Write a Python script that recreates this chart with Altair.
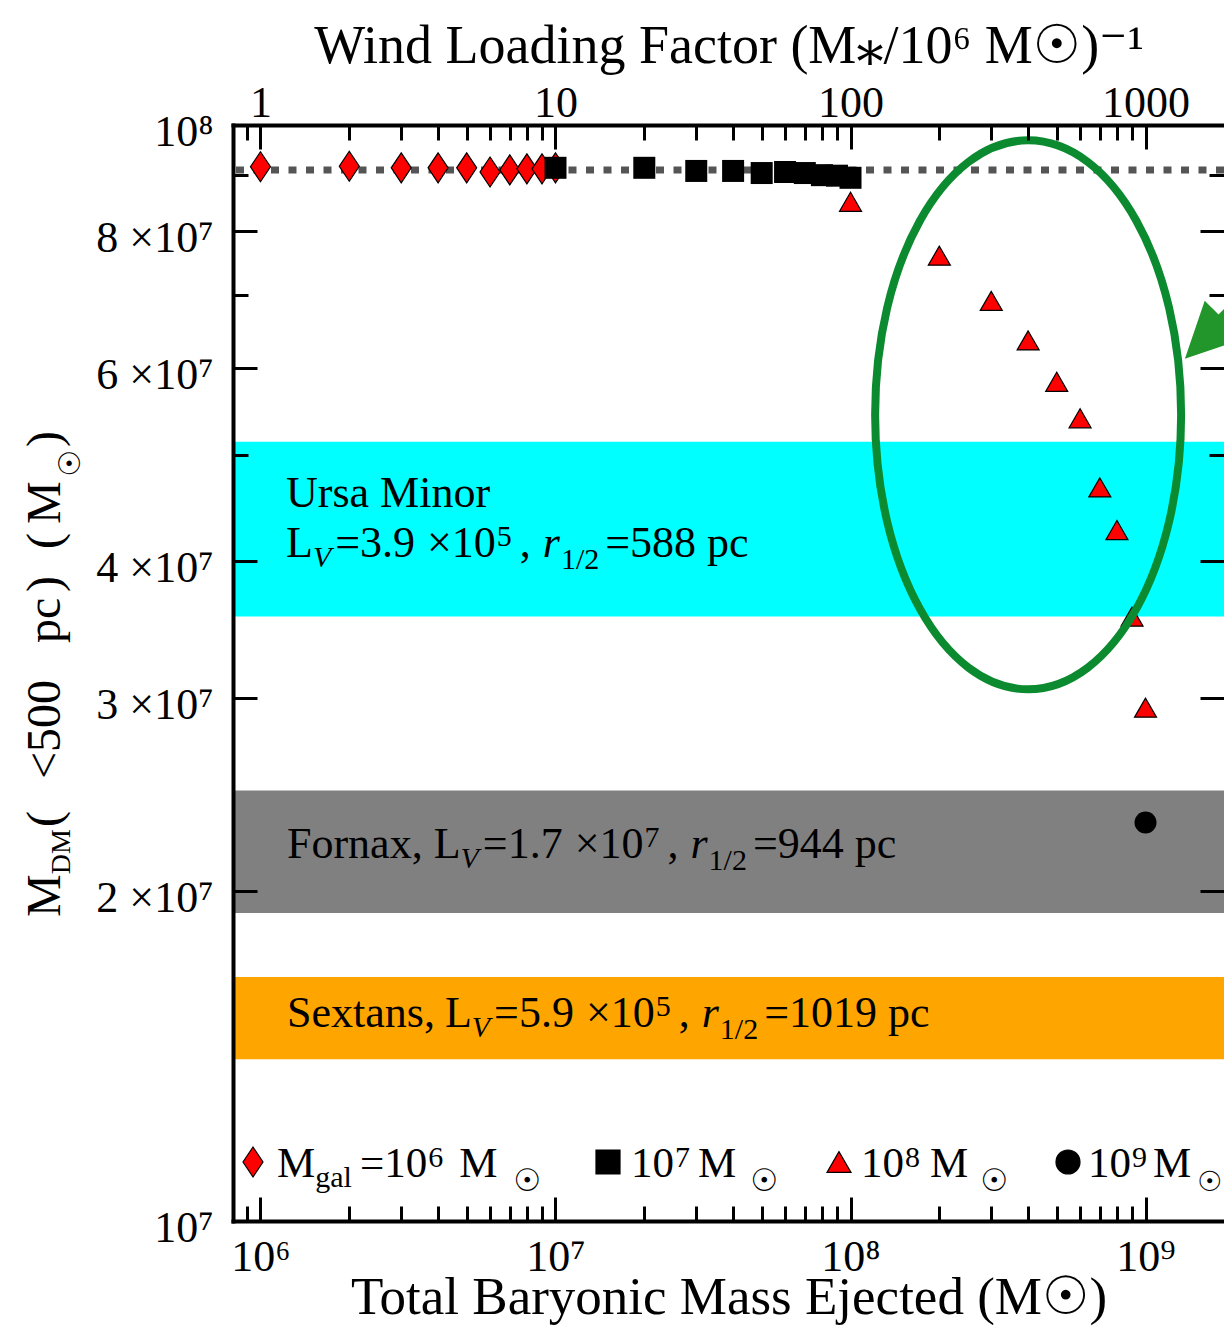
import json
import math
import pandas as pd
import altair as alt

FONT = "Liberation Serif, DejaVu Serif, DejaVu Sans, serif"

# ---------------- data ----------------
X_DOMAIN = [8.07e5, 1.845e9]
Y_DOMAIN = [1e7, 1e8]

diamond_x = [1e6, 2e6, 3e6, 4e6, 5e6, 6e6, 7e6, 8e6, 9e6, 1e7]
diamond_y = [9.16e7, 9.17e7, 9.14e7, 9.14e7, 9.14e7, 9.06e7, 9.10e7, 9.12e7, 9.12e7, 9.14e7]

square_x = [1e7, 2e7, 3e7, 4e7, 5e7, 6e7, 7e7, 8e7, 9e7, 1e8]
square_y = [9.14e7, 9.14e7, 9.08e7, 9.08e7, 9.04e7, 9.06e7, 9.04e7, 9.00e7, 8.99e7, 8.95e7]

tri_x = [1e8, 2e8, 3e8, 4e8, 5e8, 6e8, 7e8, 8e8, 9e8, 1e9]
tri_y = [8.51e7, 7.60e7, 6.91e7, 6.36e7, 5.83e7, 5.40e7, 4.67e7, 4.27e7, 3.56e7, 2.94e7]

circ_x = [1e9]
circ_y = [2.31e7]

dotted_level = [9.1e7]

band_names = ["Ursa Minor", "Fornax", "Sextans"]
band_hi = [5.14e7, 2.47e7, 1.67e7]
band_lo = [3.56e7, 1.91e7, 1.405e7]
band_colors = ["#00FFFF", "#808080", "#FFA500"]

ellipse_x = [4.0e8]
ellipse_y = [5.44e7]
arrow_tip_x = [1.36e9]
arrow_tip_y = [6.12e7]

# ticks / labels
x_major = [1e6, 1e7, 1e8, 1e9]
x_major_labels = ["10\u2076", "10\u2077", "10\u2078", "10\u2079"]
x_top_labels = ["1", "10", "100", "1000"]
x_minor = [9e5, 2e6, 3e6, 4e6, 5e6, 6e6, 7e6, 8e6, 9e6,
           2e7, 3e7, 4e7, 5e7, 6e7, 7e7, 8e7, 9e7,
           2e8, 3e8, 4e8, 5e8, 6e8, 7e8, 8e8, 9e8]
y_label_values = [1e7, 2e7, 3e7, 4e7, 6e7, 8e7, 1e8]
y_labels = ["10\u2077", "2 \u00d710\u2077", "3 \u00d710\u2077", "4 \u00d710\u2077",
            "6 \u00d710\u2077", "8 \u00d710\u2077", "10\u2078"]
y_major = [2e7, 3e7, 4e7, 6e7, 8e7]
y_minor = [5e7, 7e7, 9e7]

SUN = "\u2609"

# ---------------- layout ----------------
W, H = 991, 1096
OX, OY = 233, 125  # page position of plot origin
MAJ, MIN = 24, 15

xs = alt.Scale(type="log", domain=X_DOMAIN, nice=False)
ys = alt.Scale(type="log", domain=Y_DOMAIN, nice=False)

# Liberation Serif advance widths (Times metrics, per em)
ADV = {" ": .25, ",": .25, ".": .25, "/": .278, "(": .333, ")": .333, "<": .564, "=": .564,
       "\u00d7": .564, "L": .611, "M": .889, "V": .722, "F": .556, "S": .556, "U": .722,
       "D": .722, "a": .444, "c": .444, "e": .444, "g": .5, "i": .278, "l": .278, "n": .5,
       "o": .5, "p": .5, "r": .333, "s": .389, "t": .278, "x": .5, SUN: .84}
ADV_IT = {"V": .611, "r": .389}
for d in "0123456789":
    ADV[d] = .5


def width(text, size, italic):
    tbl = ADV_IT if italic else ADV
    return sum(tbl.get(ch, ADV.get(ch, .5)) for ch in text) * size


def chain(x0, y0, segs, normal, italic):
    x = x0
    for text, size, dy, it, gap in segs:
        x += gap
        (italic if it else normal).append((text, x, y0 + dy, size))
        x += width(text, size, it)


def lexpr(values, labels):
    return "%s[indexof(%s, datum.value)]" % (json.dumps(labels, ensure_ascii=False), json.dumps(values))


def tick_axis(orient, values, length):
    return alt.Axis(orient=orient, values=values, tickSize=length, offset=-length,
                    labels=False, domain=False, ticks=True, tickColor="black",
                    tickWidth=3, grid=False, title=None, zindex=2)


common_label = dict(ticks=False, domain=True, domainWidth=4, domainColor="black",
                    domainCap="square", labelFont=FONT, labelFontSize=44,
                    labelColor="black", grid=False, zindex=2, labelFlush=False,
                    labelOverlap=False, titleFont=FONT, titleFontWeight="normal",
                    titleColor="black")

ax_bottom = alt.Axis(orient="bottom", values=x_major, labelExpr=lexpr(x_major, x_major_labels),
                     labelPadding=14, title="Total Baryonic Mass Ejected (M" + SUN + ")",
                     titleFontSize=53, titleBaseline="alphabetic", titleY=92, **common_label)
ax_top = alt.Axis(orient="top", values=x_major, labelExpr=lexpr(x_major, x_top_labels),
                  labelPadding=0,
                  title="Wind Loading Factor (M\u204e/10\u2076 M" + SUN + ")\u207b\u00b9",
                  titleFontSize=54, titleBaseline="alphabetic", titleY=-63, **common_label)
ax_left = alt.Axis(orient="left", values=y_label_values, labelExpr=lexpr(y_label_values, y_labels),
                   labelPadding=20, labelOffset=7, title=None, **common_label)

# ---------------- marks ----------------
df_b = pd.DataFrame({"name": band_names, "hi": band_hi, "lo": band_lo, "col": band_colors})
bands = alt.Chart(df_b).mark_rect().encode(
    x=alt.XDatum(X_DOMAIN[0], type="quantitative", scale=xs, axis=None),
    x2=alt.X2Datum(X_DOMAIN[1]),
    y=alt.Y("hi:Q", scale=ys, axis=None),
    y2="lo:Q",
    color=alt.Color("col:N", scale=None, legend=None),
)

dotted = alt.Chart(pd.DataFrame({"level": dotted_level})).mark_rule(
    color="#555555", strokeWidth=7, strokeDash=[8, 9.5]
).encode(y=alt.Y("level:Q", scale=ys, axis=None))

DIAMOND = "M 0 -1 L 0.667 0 L 0 1 L -0.667 0 Z"

diamonds = alt.Chart(pd.DataFrame({"x": diamond_x, "y": diamond_y})).mark_point(
    shape=DIAMOND, size=900, filled=True, fill="#ff0000", stroke="black", strokeWidth=1.2, opacity=1
).encode(x=alt.X("x:Q", scale=xs, axis=ax_bottom), y=alt.Y("y:Q", scale=ys, axis=ax_left))

squares = alt.Chart(pd.DataFrame({"x": square_x, "y": square_y})).mark_point(
    shape="square", size=484, filled=True, color="black", opacity=1
).encode(x=alt.X("x:Q", scale=xs, axis=tick_axis("bottom", x_major, MAJ)),
         y=alt.Y("y:Q", scale=ys, axis=tick_axis("left", y_major, MAJ)))

triangles = alt.Chart(pd.DataFrame({"x": tri_x, "y": tri_y})).mark_point(
    shape="triangle-up", size=484, filled=True, fill="#ff0000", stroke="black", strokeWidth=1.2, opacity=1
).encode(x=alt.X("x:Q", scale=xs, axis=tick_axis("bottom", x_minor, MIN)),
         y=alt.Y("y:Q", scale=ys, axis=tick_axis("left", y_minor, MIN)))

circles = alt.Chart(pd.DataFrame({"x": circ_x, "y": circ_y})).mark_point(
    shape="circle", size=484, filled=True, color="black", opacity=1
).encode(x=alt.X("x:Q", scale=xs, axis=ax_top),
         y=alt.Y("y:Q", scale=ys, axis=tick_axis("right", y_major, MAJ)))

# ellipse outline (pixel-unit path, size=4 -> scale 1)
rx, ry, k = 153.0, 274.5, 0.5523
ELLIPSE = ("M {a} 0 C {a} {nb} {nc} {nry} 0 {nry} C {c} {nry} {rx} {nb} {rx} 0 "
           "C {rx} {b} {c} {ry} 0 {ry} C {nc} {ry} {a} {b} {a} 0 Z").format(
    a=-rx, rx=rx, ry=ry, nry=-ry, b=k * ry, nb=-k * ry, c=k * rx, nc=-k * rx)

ellipse = alt.Chart(pd.DataFrame({"x": ellipse_x, "y": ellipse_y})).mark_point(
    shape=ELLIPSE, size=4, filled=False, stroke="#0c8a2f", strokeWidth=8, opacity=1
).encode(x=alt.X("x:Q", scale=xs, axis=tick_axis("top", x_major, MAJ)),
         y=alt.Y("y:Q", scale=ys, axis=tick_axis("right", y_minor, MIN)))

# arrow (tip at origin, pointing down-left)
ang = math.radians(45)
u = (math.cos(ang), -math.sin(ang))
p = (math.sin(ang), math.cos(ang))


def pt(a, b):
    return "%.1f %.1f" % (a * u[0] + b * p[0], a * u[1] + b * p[1])


ARROW = "M 0 0 L {} L {} L {} L {} L {} L {} Z".format(
    pt(55, 27), pt(55, 7.5), pt(240, 7.5), pt(240, -7.5), pt(55, -7.5), pt(55, -27))

arrow = alt.Chart(pd.DataFrame({"x": arrow_tip_x, "y": arrow_tip_y})).mark_point(
    shape=ARROW, size=4, filled=True, fill="#22962a", strokeWidth=0, opacity=1
).encode(x=alt.X("x:Q", scale=xs, axis=tick_axis("top", x_minor, MIN)),
         y=alt.Y("y:Q", scale=ys, axis=None))

# legend symbols (page px)
leg_sym = pd.DataFrame({
    "px": [253, 608, 839, 1068],
    "py": [1162, 1162, 1162, 1162],
    "shp": [DIAMOND, "square", "triangle-up", "circle"],
    "fc": ["#ff0000", "black", "#ff0000", "black"],
    "sz": [900, 576, 576, 576],
})
leg_sym["px"] -= OX
leg_sym["py"] -= OY
legend_symbols = alt.Chart(leg_sym).mark_point(filled=True, stroke="black", strokeWidth=1.2, opacity=1).encode(
    x=alt.X("px:Q", scale=None, axis=None),
    y=alt.Y("py:Q", scale=None, axis=None),
    shape=alt.Shape("shp:N", scale=None, legend=None),
    fill=alt.Fill("fc:N", scale=None, legend=None),
    size=alt.Size("sz:Q", scale=None, legend=None),
)


def text_layer(rows, italic=False, angle=0):
    df = pd.DataFrame(rows, columns=["t", "px", "py", "fs"])
    df["px"] = df["px"] - OX
    df["py"] = df["py"] - OY
    return alt.Chart(df).mark_text(
        align="left", baseline="alphabetic", font=FONT, color="black",
        fontStyle="italic" if italic else "normal", angle=angle
    ).encode(
        x=alt.X("px:Q", scale=None, axis=None),
        y=alt.Y("py:Q", scale=None, axis=None),
        text="t:N",
        size=alt.Size("fs:Q", scale=None, legend=None),
    )


F, T = False, True
BS, SS = 44, 30   # band text size, sub/superscript size
normal, italic = [], []

# band labels
normal.append(("Ursa Minor", 286, 507, BS))
chain(286, 557, [("L", BS, 0, F, 0), ("V", SS, 10, T, 0), ("=3.9", BS, 0, F, 4),
                 ("\u00d710", BS, 0, F, 12), ("5", SS, -11, F, 1), (",", BS, 0, F, 8),
                 ("r", BS, 0, T, 12), ("1/2", SS, 12, F, 1), ("=588 pc", BS, 0, F, 6)], normal, italic)
chain(287, 858, [("Fornax,", BS, 0, F, 0), ("L", BS, 0, F, 11), ("V", SS, 10, T, 0),
                 ("=1.7", BS, 0, F, 4), ("\u00d710", BS, 0, F, 12), ("7", SS, -11, F, 1),
                 (",", BS, 0, F, 8), ("r", BS, 0, T, 12), ("1/2", SS, 12, F, 1),
                 ("=944 pc", BS, 0, F, 6)], normal, italic)
chain(287, 1027, [("Sextans,", BS, 0, F, 0), ("L", BS, 0, F, 10), ("V", SS, 10, T, 0),
                  ("=5.9", BS, 0, F, 4), ("\u00d710", BS, 0, F, 12), ("5", SS, -11, F, 1),
                  (",", BS, 0, F, 8), ("r", BS, 0, T, 12), ("1/2", SS, 12, F, 1),
                  ("=1019 pc", BS, 0, F, 6)], normal, italic)

# legend labels
LS = 43
legend_rows, legend_it = [], []
chain(277, 1177, [("M", LS, 0, F, 0), ("gal", SS, 10, F, 0), ("=10", LS, 0, F, 8),
                  ("6", SS, -10, F, 1), ("M", LS, 0, F, 16), (SUN, 31, 14, F, 16)], legend_rows, legend_it)
chain(631, 1177, [("10", LS, 0, F, 0), ("7", SS, -10, F, 1), ("M", LS, 0, F, 8),
                  (SUN, 31, 14, F, 14)], legend_rows, legend_it)
chain(861, 1177, [("10", LS, 0, F, 0), ("8", SS, -10, F, 1), ("M", LS, 0, F, 10),
                  (SUN, 31, 14, F, 12)], legend_rows, legend_it)
chain(1088, 1177, [("10", LS, 0, F, 0), ("9", SS, -10, F, 1), ("M", LS, 0, F, 6),
                   (SUN, 28, 14, F, 6)], legend_rows, legend_it)

# rotated y-axis title pieces: (text, baseline x, start y, size)
YS = 48
ytitle_text = [
    ("M", 60, 917, YS), ("DM", 70, 917 - ADV["M"] * YS, 28), ("(", 60, 827, YS),
    ("<500", 60, 779, YS), ("pc", 60, 643, YS), (")", 60, 592, YS), ("(", 60, 549, YS),
    ("M", 60, 524, YS), (SUN, 80, 477, 30), (")", 60, 447, YS),
]

layers = [
    bands,
    text_layer(normal),
    text_layer(italic, italic=True),
    dotted,
    diamonds,
    squares,
    triangles,
    circles,
    ellipse,
    arrow,
    legend_symbols,
    text_layer(legend_rows),
    text_layer(ytitle_text, angle=270),
]

chart = alt.layer(*layers).resolve_axis(x="independent", y="independent").properties(
    width=W, height=H,
    autosize=alt.AutoSizeParams(type="none"),
    padding={"left": OX - 8, "top": OY - 8, "right": 0, "bottom": 105},
).configure_view(stroke=None)

chart.save("out.html", embed_options={"renderer": "svg", "actions": False})
